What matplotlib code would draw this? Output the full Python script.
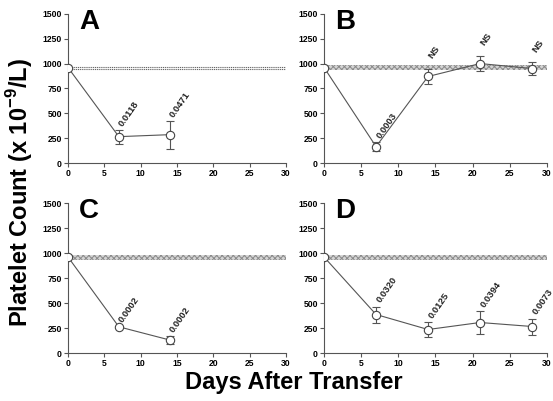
import matplotlib
matplotlib.use('Agg')
import matplotlib.pyplot as plt
import numpy as np

plt.rcParams['font.family'] = ['Liberation Sans', 'DejaVu Sans']
plt.rcParams['font.weight'] = 'bold'
plt.rcParams['mathtext.fontset'] = 'custom'
plt.rcParams['mathtext.bf'] = 'Liberation Sans:bold'
plt.rcParams['mathtext.rm'] = 'Liberation Sans:bold'
plt.rcParams['hatch.linewidth'] = 0.7

# Dati (giorni, media, errore, p-value)
days_a = [0, 7, 14]
mean_a = [960, 265, 285]
err_a = [0, 70, 140]
pval_a = ['', '0.0118', '0.0471']

days_b = [0, 7, 14, 21, 28]
mean_b = [960, 165, 870, 1000, 950]
err_b = [0, 45, 78, 78, 62]
pval_b = ['', '0.0003', 'NS', 'NS', 'NS']

days_c = [0, 7, 14]
mean_c = [960, 262, 130]
err_c = [0, 10, 40]
pval_c = ['', '0.0002', '0.0002']

days_d = [0, 7, 14, 21, 28]
mean_d = [960, 385, 235, 305, 265]
err_d = [0, 80, 78, 115, 80]
pval_d = ['', '0.0320', '0.0125', '0.0394', '0.0073']

baseline = 960
letters = ['A', 'B', 'C', 'D']
panels = [(days_a, mean_a, err_a, pval_a),
          (days_b, mean_b, err_b, pval_b),
          (days_c, mean_c, err_c, pval_c),
          (days_d, mean_d, err_d, pval_d)]

fig = plt.figure(figsize=(5.53, 4.01), dpi=100)
positions = [[0.123, 0.5935, 0.394, 0.372],
             [0.586, 0.5935, 0.403, 0.372],
             [0.123, 0.1197, 0.394, 0.374],
             [0.586, 0.1197, 0.403, 0.374]]

for i, (pos, (x, y, e, p)) in enumerate(zip(positions, panels)):
    ax = fig.add_axes(pos)
    # banda di riferimento
    if i == 0:
        ax.axhline(baseline - 10, color='#666666', lw=0.8, ls=(0, (1, 0.7)), zorder=1)
        ax.axhline(baseline + 10, color='#666666', lw=0.8, ls=(0, (1, 0.7)), zorder=1)
    else:
        ax.axhspan(baseline - 25, baseline + 25, facecolor='#d4d4d4',
                   edgecolor='#8a8a8a', hatch='xxxxxx', lw=0, zorder=1)
    ax.errorbar(x, y, yerr=e, color='#555555', lw=0.8, elinewidth=0.8,
                capsize=3, capthick=0.8, marker='o', ms=6, mfc='white',
                mec='#444444', mew=0.8, zorder=3)
    for xi, yi, ei, pi in zip(x, y, e, p):
        if pi:
            off = 110 if pi == 'NS' else 45
            ax.text(xi + 0.3, yi + ei + off, pi, rotation=55, rotation_mode='anchor',
                    ha='left', va='center', fontsize=6.8, fontweight='bold', color='#222222')
    ax.set_xlim(0, 30)
    ax.set_ylim(0, 1500)
    ax.set_xticks(np.arange(0, 31, 5))
    ax.set_yticks(np.arange(0, 1501, 250))
    ax.spines['top'].set_visible(False)
    ax.spines['right'].set_visible(False)
    for s in ['left', 'bottom']:
        ax.spines[s].set_color('#555555')
        ax.spines[s].set_linewidth(0.8)
    ax.tick_params(direction='out', length=3, width=0.8, color='#555555',
                   labelsize=6.2, pad=1.5)
    for lab in ax.get_xticklabels() + ax.get_yticklabels():
        lab.set_fontweight('bold')
    ax.text(0.05, 1.035, letters[i], transform=ax.transAxes, va='top', ha='left',
            fontsize=20, fontweight='bold')

fig.text(0.036, 0.519, 'Platelet Count (x 10$^{\\mathbf{-9}}$/L)', rotation=90,
         ha='center', va='center', fontsize=17, fontweight='bold')
fig.text(0.532, 0.045, 'Days After Transfer', ha='center', va='center',
         fontsize=17, fontweight='bold')

fig.savefig('out.png', dpi=100)
